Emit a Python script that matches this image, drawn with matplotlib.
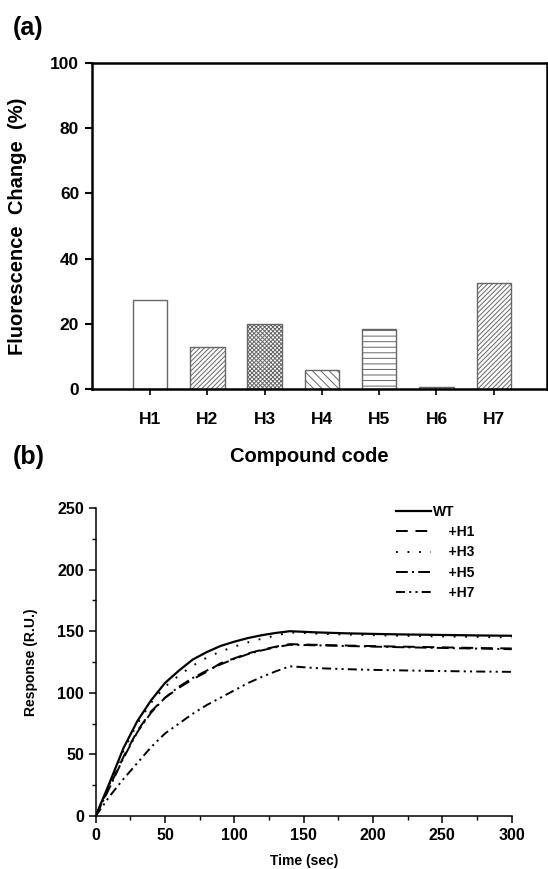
import numpy as np
import matplotlib
matplotlib.use('Agg')
import matplotlib.pyplot as plt

plt.rcParams['font.family'] = ['Liberation Sans', 'DejaVu Sans']
plt.rcParams['font.weight'] = 'bold'
plt.rcParams['axes.labelweight'] = 'bold'
plt.rcParams['hatch.linewidth'] = 0.7
plt.rcParams['lines.scale_dashes'] = False

# (a) fluorescence change per compound
compounds = ['H1', 'H2', 'H3', 'H4', 'H5', 'H6', 'H7']
fluor_change = [27.3, 13.0, 20.0, 5.8, 18.5, 0.7, 32.4]
hatches = ['', '///////', 'xxxxxxxx', '\\\\\\\\', '---', '///////', '///////']

# (b) SPR sensorgrams
time_sec = [0, 10, 20, 30, 40, 50, 60, 70, 80, 90, 100, 110, 120, 130, 140,
            160, 180, 200, 220, 240, 260, 280, 300]
resp_wt = [0, 27, 55, 77, 94, 108, 118, 127, 133, 138, 141.5, 144.5, 146.8, 148.6, 150,
           149, 148.3, 147.8, 147.4, 147.1, 146.8, 146.5, 146.3]
resp_h1 = [0, 24, 48, 69, 85, 96, 104, 111, 117, 124, 128, 132, 135, 137.5, 139.5,
           138.9, 138.4, 137.9, 137.5, 137.1, 136.7, 136.3, 136.0]
resp_h3 = [0, 26, 53, 75, 92, 105, 114, 122, 128.5, 133.5, 137.5, 141, 144, 146.5, 149,
           148, 147.3, 146.8, 146.3, 145.9, 145.6, 145.3, 145.0]
resp_h5 = [0, 23, 47, 68, 84, 96, 105, 112, 118, 123, 127.5, 131.5, 134.5, 137, 139,
           138.5, 138, 137.5, 137, 136.6, 136.2, 135.8, 135.4]
resp_h7 = [0, 16, 30, 43, 56, 67, 75, 83, 90, 96, 102, 108, 113, 117.5, 121.5,
           120, 119.2, 118.6, 118.2, 117.8, 117.5, 117.2, 117.0]

W, H = 548, 869
fig = plt.figure(figsize=(W / 100, H / 100), dpi=100)

# ---- panel (a) ----
ax1 = fig.add_axes([91.7 / W, 1 - 389.3 / H, (547 - 91.7) / W, (389.3 - 62.7) / H])
x = np.arange(len(compounds))
for xi, val, hp in zip(x, fluor_change, hatches):
    ax1.bar(xi, val, width=0.6, facecolor='white', edgecolor='#666666',
            linewidth=1.0, hatch=hp)
ax1.set_xlim(-1.02, 6.93)
ax1.set_ylim(0, 100)
ax1.set_yticks([0, 20, 40, 60, 80, 100])
ax1.set_xticks(x)
ax1.set_xticklabels(compounds)
for s in ax1.spines.values():
    s.set_linewidth(1.8)
ax1.tick_params(axis='y', direction='out', length=5, width=1.5, labelsize=12.5, pad=4)
ax1.tick_params(axis='x', direction='out', length=4, width=1.2, labelsize=12.5, pad=12)
ax1.set_ylabel('Fluorescence  Change  (%)', fontsize=14.5)
ax1.yaxis.set_label_coords(-0.142, 0.50)
ax1.set_xlabel('Compound code', fontsize=14.5)
ax1.xaxis.set_label_coords((309 - 91.7) / (547 - 91.7), -(446.7 - 389.3) / (389.3 - 62.7))
fig.text(13 / W, 1 - 28 / H, '(a)', fontsize=18, va='center', ha='left')

# ---- panel (b) ----
ax2 = fig.add_axes([95.7 / W, 1 - 816 / H, (511.7 - 95.7) / W, 308 / H])
lw = 1.4
ax2.plot(time_sec, resp_wt, color='black', lw=1.6, ls='-', label='WT')
ax2.plot(time_sec, resp_h1, color='black', lw=lw, dashes=(8.5, 5.5), label='    +H1')
ax2.plot(time_sec, resp_h3, color='black', lw=lw, dashes=(1.3, 7.0), label='    +H3')
ax2.plot(time_sec, resp_h5, color='black', lw=lw, dashes=(8.5, 3, 1.5, 3), label='    +H5')
ax2.plot(time_sec, resp_h7, color='black', lw=lw, dashes=(6.5, 3, 1.5, 3, 1.5, 3), label='    +H7')
ax2.set_xlim(0, 300)
ax2.set_ylim(0, 250)
ax2.set_xticks(np.arange(0, 301, 50))
ax2.set_xticks(np.arange(25, 300, 50), minor=True)
ax2.set_yticks(np.arange(0, 251, 50))
ax2.set_yticks(np.arange(25, 250, 50), minor=True)
ax2.spines['top'].set_visible(False)
ax2.spines['right'].set_visible(False)
for s in ['left', 'bottom']:
    ax2.spines[s].set_linewidth(1.1)
ax2.tick_params(which='major', direction='out', length=5, width=1.1, labelsize=11.5)
ax2.tick_params(which='minor', direction='out', length=3, width=1.0)
ax2.set_xlabel('Time (sec)', fontsize=10, labelpad=8)
ax2.set_ylabel('Response (R.U.)', fontsize=10, labelpad=14)
ax2.legend(loc='upper left', bbox_to_anchor=(0.722, 1.01), frameon=False,
           fontsize=10, handlelength=2.5, handletextpad=0.15, labelspacing=0.45,
           borderpad=0, borderaxespad=0)
fig.text(13 / W, 1 - 457 / H, '(b)', fontsize=18, va='center', ha='left')

fig.savefig('out.png', dpi=100)
